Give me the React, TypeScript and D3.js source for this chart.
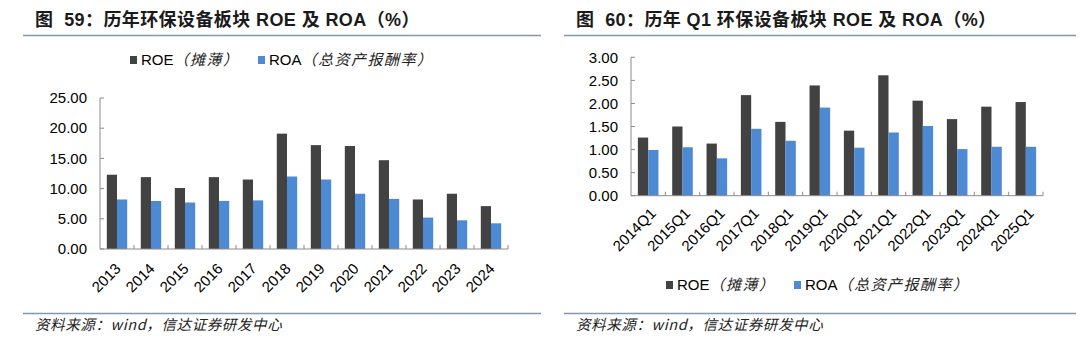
import React from "react";
import * as d3 from "d3";

const years = ["2013","2014","2015","2016","2017","2018","2019","2020","2021","2022","2023","2024"];
const roeYear = [12.3, 11.9, 10.1, 11.9, 11.5, 19.1, 17.2, 17.05, 14.7, 8.2, 9.15, 7.1];
const roaYear = [8.2, 7.95, 7.7, 7.95, 8.05, 12.0, 11.5, 9.15, 8.3, 5.2, 4.75, 4.25];

const quarters = ["2014Q1","2015Q1","2016Q1","2017Q1","2018Q1","2019Q1","2020Q1","2021Q1","2022Q1","2023Q1","2024Q1","2025Q1"];
const roeQ1 = [1.26, 1.50, 1.13, 2.18, 1.60, 2.39, 1.41, 2.61, 2.06, 1.66, 1.93, 2.03];
const roaQ1 = [0.99, 1.05, 0.81, 1.45, 1.19, 1.91, 1.04, 1.37, 1.51, 1.01, 1.06, 1.06];

const leftTicks = [0, 5, 10, 15, 20, 25];
const rightTicks = [0, 0.5, 1, 1.5, 2, 2.5, 3];

const seriesNames = ["ROE（摊薄）", "ROA（总资产报酬率）"];
const seriesColors = ["#424242", "#4e89d3"];

const FONT = '"Liberation Sans", Arial, "Noto Sans CJK SC", sans-serif';
const CJK = '"Noto Sans CJK SC", "Liberation Sans", sans-serif';
const AXIS = "#8c8c8c";
const RULE = "#8197b0";

type PanelProps = {
  cats: string[];
  a: number[];
  b: number[];
  ticks: number[];
  x0: number; x1: number; y0: number; y1: number;
  labelDx: number; labelDy: number;
};

function Panel({ cats, a, b, ticks, x0, x1, y0, y1, labelDx, labelDy }: PanelProps) {
  const x = d3.scaleBand<string>().domain(cats).range([x0, x1]).padding(0);
  const inner = d3.scaleBand<number>().domain([0, 1]).range([x.bandwidth() * 0.2, x.bandwidth() * 0.8]);
  const y = d3.scaleLinear().domain([ticks[0], ticks[ticks.length - 1]]).range([y0, y1]);
  const data = [a, b];
  return (
    <g>
      {data.map((vals, si) =>
        vals.map((v, i) => (
          <rect key={`${si}-${i}`} x={(x(cats[i]) as number) + (inner(si) as number)} y={y(v)}
            width={inner.bandwidth()} height={y(0) - y(v)} fill={seriesColors[si]} />
        ))
      )}
      <line x1={x0} x2={x0} y1={y0} y2={y1} stroke={AXIS} strokeWidth={1} />
      <line x1={x0} x2={x1} y1={y0} y2={y0} stroke={AXIS} strokeWidth={1} />
      {ticks.map((t) => (
        <g key={t}>
          <line x1={x0} x2={x0 + 4} y1={y(t)} y2={y(t)} stroke={AXIS} />
          <text x={x0 - 13} y={y(t)} dy="0.35em" textAnchor="end" fontSize={15} fontFamily={FONT} fill="#000">
            {d3.format(".2f")(t)}
          </text>
        </g>
      ))}
      {cats.map((c, i) => (
        <line key={"xt" + i} x1={(x(c) as number) + x.bandwidth()} x2={(x(c) as number) + x.bandwidth()}
          y1={y0} y2={y0 - 4} stroke={AXIS} />
      ))}
      {cats.map((c) => {
        const cx = (x(c) as number) + x.bandwidth() / 2 + labelDx;
        const cy = y0 + labelDy;
        return (
          <text key={"xl" + c} x={cx} y={cy} dy="0.35em" textAnchor="end" fontSize={15} fontFamily={FONT}
            transform={`rotate(-45 ${cx} ${cy})`} fill="#000">
            {c}
          </text>
        );
      })}
    </g>
  );
}

function Legend({ x, y, gap }: { x: number; y: number; gap: number }) {
  return (
    <g>
      {seriesNames.map((n, i) => {
        const lx = x + i * gap;
        const [lat, cjk] = [n.slice(0, 3), n.slice(3)];
        return (
          <g key={n}>
            <rect x={lx} y={y - 4} width={7} height={8} fill={seriesColors[i]} />
            <text x={lx + 11} y={y} dy="0.36em" fontSize={15} fontFamily={FONT} fill="#000">
              {lat}
              <tspan fontFamily={CJK} fontSize={15} fill="#222" fontStyle="italic" letterSpacing={1.5}>{cjk}</tspan>
            </text>
          </g>
        );
      })}
    </g>
  );
}

function Frame({ x0, x1, title, source }: { x0: number; x1: number; title: string; source: string }) {
  return (
    <g>
      <text x={x0 + 12} y={20} dy="0.36em" fontSize={18} fontWeight="bold" fontFamily={FONT} fill="#1a1a1a"
        letterSpacing={0.4} style={{ whiteSpace: "pre" }}>{title}</text>
      <line x1={x0} x2={x1} y1={35.5} y2={35.5} stroke={RULE} strokeWidth={1.5} />
      <line x1={x0} x2={x1} y1={313.5} y2={313.5} stroke={RULE} strokeWidth={1.5} />
      <text x={x0 + 12} y={325} dy="0.36em" fontSize={14.5} fontStyle="italic" fontFamily={CJK} fill="#222" letterSpacing={0.6}>{source}</text>
    </g>
  );
}

export default function App() {
  return (
    <svg width={1080} height={339} style={{ position: "absolute", left: 0, top: 0, background: "#fff" }}>
      <rect width={1080} height={339} fill="#fff" />
      <Frame x0={23} x1={541} title="图  59：历年环保设备板块 ROE 及 ROA（%）" source="资料来源：wind，信达证券研发中心" />
      <Frame x0={564} x1={1076} title="图  60：历年 Q1 环保设备板块 ROE 及 ROA（%）" source="资料来源：wind，信达证券研发中心" />
      <Legend x={130} y={60} gap={128} />
      <Panel cats={years} a={roeYear} b={roaYear} ticks={leftTicks} x0={100} x1={508} y0={249} y1={98} labelDx={1} labelDy={17} />
      <Legend x={666} y={285} gap={128} />
      <Panel cats={quarters} a={roeQ1} b={roaQ1} ticks={rightTicks} x0={631} x1={1043} y0={195.7} y1={57.3} labelDx={5} labelDy={15} />
    </svg>
  );
}
